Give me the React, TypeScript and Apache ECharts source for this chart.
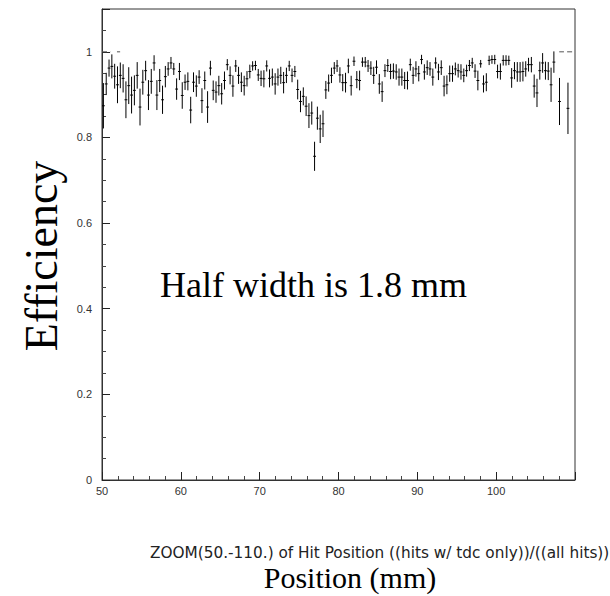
import React, { useEffect, useRef } from "react";
import * as echarts from "echarts";

// Histogram definition (zoomed range 50–110 mm)
const X_MIN = 50;
const X_MAX = 110;
const N_BINS = 168;
const BIN_WIDTH = (X_MAX - X_MIN) / N_BINS;

const xTickValues = [50, 60, 70, 80, 90, 100];
const yTickValues = [0, 0.2, 0.4, 0.6, 0.8, 1];

// Efficiency per bin (null = empty bin)
const efficiency: (number | null)[] = [
  0.874, 0.925, 0.962, 0.966, 0.943, 0.923, 0.945, 0.938, 0.888, 0.921,
  0.899, 0.910, 0.945, 0.871, 0.929, 0.956, 0.899, 0.931, 0.974, 0.899,
  0.933, 0.888, 0.942, 0.960, 0.974, 0.960, 0.913, 0.954, 0.898, 0.929,
  0.931, 0.864, 0.929, 0.920, 0.941, 0.886, 0.933, 0.871, 0.962, 0.910,
  0.906, 0.921, 0.902, 0.933, 0.970, 0.945, 0.920, 0.967, 0.945, 0.929,
  0.921, 0.937, 0.954, 0.967, 0.968, 0.946, 0.938, 0.937, 0.967, 0.938,
  0.941, 0.925, 0.941, 0.945, 0.928, 0.945, 0.967, 0.945, 0.954, 0.912,
  0.884, 0.896, 0.873, 0.851, 0.857, 0.756, 0.845, 0.820, 0.832, 0.911,
  0.927, 0.945, 0.962, 0.967, 0.946, 0.928, 0.928, 0.967, 0.921, 0.978,
  0.935, 0.933, 0.976, 0.976, 0.967, 0.962, 0.945, 0.964, 0.925, 0.907,
  0.956, 0.968, 0.954, 0.955, 0.953, 0.941, 0.941, 0.933, 0.933, 0.970,
  0.945, 0.960, 0.949, 0.982, 0.953, 0.963, 0.960, 0.941, 0.974, 0.953,
  0.963, 0.920, 0.923, 0.949, 0.949, 0.960, 0.956, 0.953, 0.945, 0.956,
  0.968, 0.974, 0.955, 0.933, 0.972, 0.925, 0.929, 0.980, 0.982, 0.982,
  0.954, 0.954, 0.980, 0.980, 0.980, 0.939, 0.956, 0.953, 0.953, 0.954,
  0.960, 0.970, 0.970, 0.920, 0.904, 0.956, 0.974, 0.956, 0.955, 0.923,
  0.976, null, 0.884, null, null, 0.868, null, null,
];

// Half-length of the error bar per bin
const errors: number[] = [
  0.053, 0.026, 0.020, 0.028, 0.029, 0.043, 0.030, 0.033, 0.043, 0.043,
  0.043, 0.035, 0.031, 0.043, 0.029, 0.023, 0.035, 0.029, 0.018, 0.035,
  0.027, 0.033, 0.025, 0.016, 0.014, 0.014, 0.025, 0.020, 0.031, 0.018,
  0.021, 0.031, 0.023, 0.025, 0.016, 0.029, 0.021, 0.037, 0.017, 0.023,
  0.025, 0.023, 0.025, 0.021, 0.013, 0.021, 0.025, 0.014, 0.020, 0.023,
  0.023, 0.018, 0.016, 0.011, 0.011, 0.014, 0.018, 0.020, 0.013, 0.021,
  0.020, 0.025, 0.020, 0.020, 0.025, 0.018, 0.012, 0.016, 0.013, 0.023,
  0.025, 0.021, 0.023, 0.029, 0.027, 0.034, 0.027, 0.033, 0.031, 0.021,
  0.020, 0.018, 0.014, 0.014, 0.018, 0.020, 0.023, 0.017, 0.023, 0.011,
  0.020, 0.023, 0.011, 0.012, 0.014, 0.016, 0.020, 0.016, 0.023, 0.024,
  0.015, 0.015, 0.018, 0.018, 0.018, 0.020, 0.020, 0.020, 0.021, 0.014,
  0.020, 0.018, 0.018, 0.011, 0.018, 0.017, 0.016, 0.020, 0.013, 0.019,
  0.017, 0.024, 0.022, 0.019, 0.019, 0.015, 0.016, 0.018, 0.016, 0.014,
  0.013, 0.012, 0.016, 0.023, 0.009, 0.020, 0.021, 0.011, 0.010, 0.011,
  0.016, 0.019, 0.012, 0.012, 0.011, 0.023, 0.020, 0.023, 0.023, 0.023,
  0.018, 0.016, 0.018, 0.027, 0.033, 0.021, 0.023, 0.021, 0.021, 0.040,
  0.025, 0, 0.055, 0, 0, 0.060, 0, 0,
];

// Stretches where the ratio is exactly 1 with no error (drawn dashed)
const unitStretches: [number, number][] = [
  [50.0, 51.05],
  [51.9, 52.3],
  [108.0, 108.6],
  [109.0, 110.0],
];

const fmtY = (v: number) => {
  const hit = yTickValues.find((t) => Math.abs(t - v) < 1e-6);
  return hit === undefined ? "" : String(hit);
};

export default function App() {
  const ref = useRef<HTMLDivElement>(null);
  useEffect(() => {
    if (!ref.current) return;
    const chart = echarts.init(ref.current, null, { renderer: "svg" });

    const points = efficiency
      .map((v, i) => (v === null ? null : [X_MIN + (i + 0.5) * BIN_WIDTH, v, errors[i]]))
      .filter((p) => p !== null) as number[][];

    const option: any = {
      animation: false,
      backgroundColor: "#fff",
      grid: {
        left: 102,
        right: 35,
        top: 9,
        bottom: 116,
        show: true,
        borderColor: "#333",
        borderWidth: 1,
        backgroundColor: "transparent",
      },
      xAxis: {
        type: "value",
        min: X_MIN,
        max: X_MAX,
        interval: 10,
        axisLine: { show: true, lineStyle: { color: "#333", width: 1 } },
        axisTick: { show: true, inside: true, length: 8, lineStyle: { color: "#222" } },
        minorTick: { show: true, splitNumber: 5, length: 4, lineStyle: { color: "#444" } },
        splitLine: { show: false },
        axisLabel: {
          fontFamily: "Liberation Sans",
          fontSize: 11,
          color: "#333",
          margin: 5,
          formatter: (v: number) => (xTickValues.includes(v) ? String(v) : ""),
        },
      },
      yAxis: {
        type: "value",
        min: 0,
        max: 1.1,
        interval: 0.2,
        axisLine: { show: true, lineStyle: { color: "#333", width: 1 } },
        axisTick: { show: true, inside: true, length: 8, lineStyle: { color: "#222" } },
        minorTick: { show: true, splitNumber: 4, length: 4, lineStyle: { color: "#444" } },
        splitLine: { show: false },
        axisLabel: {
          fontFamily: "Liberation Sans",
          fontSize: 11,
          color: "#333",
          margin: 10,
          formatter: fmtY,
        },
      },
      series: [
        {
          type: "custom",
          coordinateSystem: "cartesian2d",
          data: points,
          clip: true,
          renderItem: (_p: any, api: any) => {
            const x = api.value(0);
            const v = api.value(1);
            const e = api.value(2);
            const top = api.coord([x, v + e]);
            const bot = api.coord([x, v - e]);
            const l = api.coord([x - BIN_WIDTH / 2, v]);
            const r = api.coord([x + BIN_WIDTH / 2, v]);
            return {
              type: "group",
              children: [
                {
                  type: "line",
                  shape: { x1: top[0], y1: top[1], x2: bot[0], y2: bot[1] },
                  style: { stroke: "#000", lineWidth: 1 },
                },
                {
                  type: "line",
                  shape: { x1: l[0], y1: l[1], x2: r[0], y2: r[1] },
                  style: { stroke: "#000", lineWidth: 1 },
                },
              ],
            };
          },
        },
        {
          type: "custom",
          coordinateSystem: "cartesian2d",
          data: unitStretches.map(([a, b]) => [a, b, 1]),
          renderItem: (_p: any, api: any) => {
            const a = api.coord([api.value(0), api.value(2)]);
            const b = api.coord([api.value(1), api.value(2)]);
            return {
              type: "line",
              shape: { x1: a[0], y1: a[1], x2: b[0], y2: b[1] },
              style: { stroke: "#555", lineWidth: 1, lineDash: [5, 3] },
            };
          },
        },
      ],
      graphic: [
        {
          type: "text",
          x: 41,
          y: 256,
          rotation: Math.PI / 2,
          style: {
            text: "Efficiency",
            fontFamily: "Liberation Serif",
            fontSize: 46,
            fill: "#000",
            align: "center",
            verticalAlign: "middle",
          },
        },
        {
          type: "text",
          x: 160,
          y: 285,
          style: {
            text: "Half width is 1.8 mm",
            fontFamily: "Liberation Serif",
            fontSize: 36,
            fill: "#000",
            align: "left",
            verticalAlign: "middle",
          },
        },
        {
          type: "text",
          x: 150,
          y: 553,
          style: {
            text: "ZOOM(50.-110.) of Hit Position ((hits w/ tdc only))/((all hits))",
            fontFamily: "DejaVu Sans",
            fontSize: 15.3,
            fill: "#222",
            align: "left",
            verticalAlign: "middle",
          },
        },
        {
          type: "text",
          x: 350,
          y: 577,
          style: {
            text: "Position (mm)",
            fontFamily: "Liberation Serif",
            fontSize: 30,
            fill: "#000",
            align: "center",
            verticalAlign: "middle",
          },
        },
      ],
    };
    chart.setOption(option);
    return () => chart.dispose();
  }, []);
  return (
    <div
      ref={ref}
      style={{ position: "fixed", left: 0, top: 0, width: 610, height: 596 }}
    />
  );
}
